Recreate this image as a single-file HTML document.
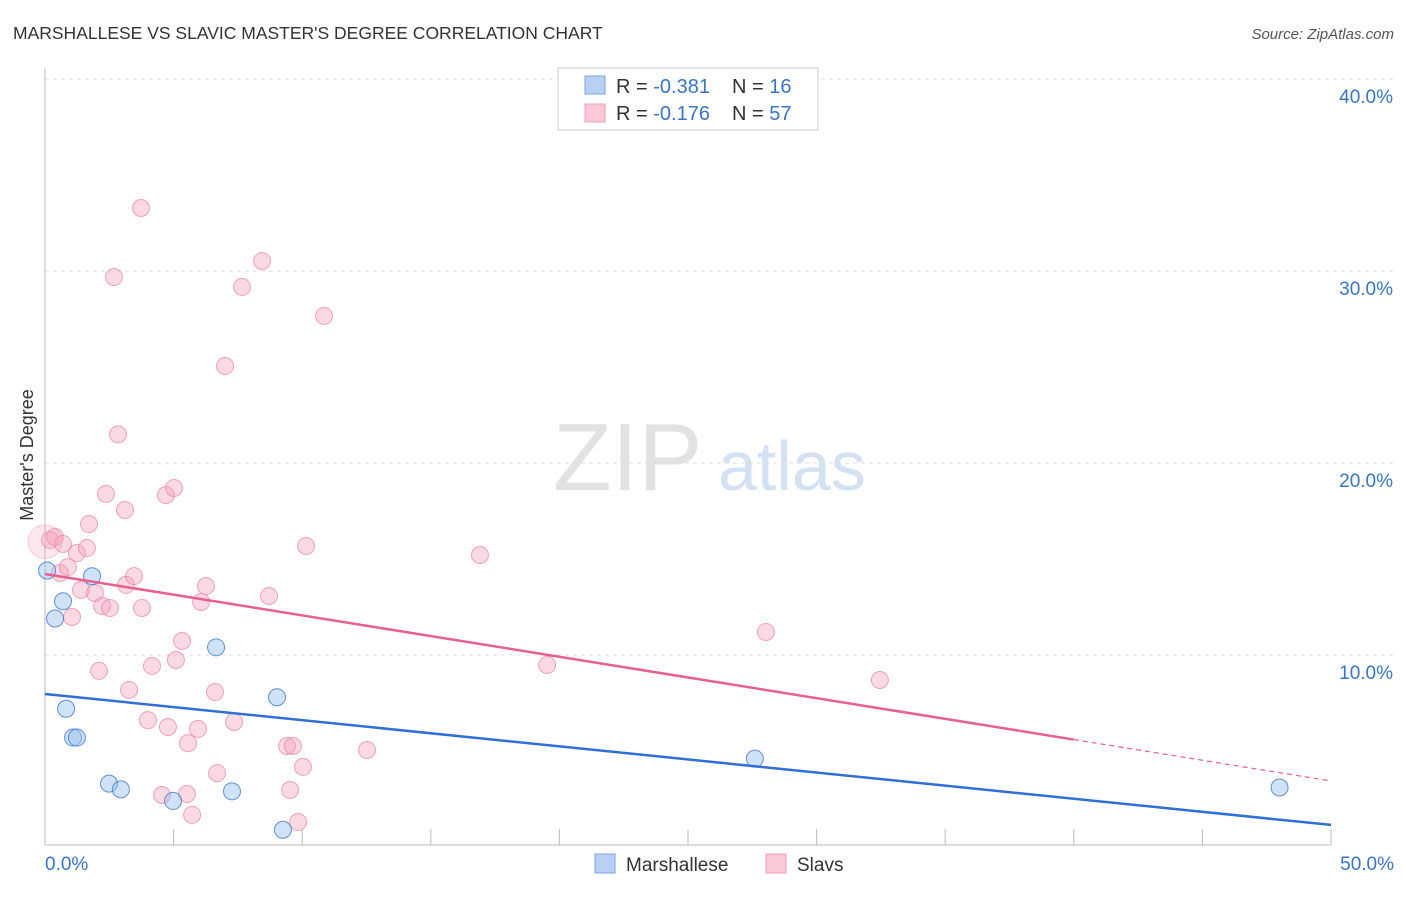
<!DOCTYPE html>
<html><head><meta charset="utf-8"><style>
body{margin:0;background:#fff;font-family:"Liberation Sans",sans-serif}
svg text{font-family:"Liberation Sans",sans-serif}
</style></head><body>
<svg id="chart" width="1406" height="892">
<text x="13" y="39" font-size="17.5" fill="#333">MARSHALLESE VS SLAVIC MASTER'S DEGREE CORRELATION CHART</text>
<text x="1394" y="39" font-size="15" fill="#555" font-style="italic" text-anchor="end">Source: ZipAtlas.com</text>
<g>
<text x="553" y="490" font-size="96" fill="#e2e2e2" font-family="Liberation Serif,serif">ZIP</text>
<text x="718" y="490" font-size="70" fill="#d3e1f3">atlas</text>
</g>
<g id="grid"></g>
<line x1="45" y1="68" x2="45" y2="845" stroke="#bbb"/>
<line x1="45" y1="845" x2="1331" y2="845" stroke="#bbb"/>
<g id="ticks"></g>
<text x="33" y="455" font-size="18" fill="#333" transform="rotate(-90 33 455)" text-anchor="middle">Master's Degree</text>
<text x="45" y="870" font-size="19" fill="#3a75c4">0.0%</text>
<text x="1394" y="870" font-size="19" fill="#3a75c4" text-anchor="end">50.0%</text>
<g id="marks"></g>
<g>
<rect x="558" y="68" width="260" height="62" fill="#fff" stroke="#ccc"/>
<rect x="585" y="76" width="20" height="18" fill="#b8d0f4" stroke="#7aa3dd"/>
<rect x="585" y="104" width="20" height="18" fill="#fbc8d6" stroke="#eea0b6"/>
<text x="616" y="93" font-size="20" fill="#333">R = <tspan fill="#3a75c4">-0.381</tspan><tspan x="732">N = </tspan><tspan fill="#3a75c4">16</tspan></text>
<text x="616" y="120" font-size="20" fill="#333">R = <tspan fill="#3a75c4">-0.176</tspan><tspan x="732">N = </tspan><tspan fill="#3a75c4">57</tspan></text>
</g>
<g>
<rect x="595" y="854" width="20" height="19" fill="#b8d0f4" stroke="#7aa3dd"/>
<text x="626" y="871" font-size="19" fill="#333">Marshallese</text>
<rect x="766" y="854" width="20" height="19" fill="#fbc8d6" stroke="#eea0b6"/>
<text x="797" y="871" font-size="19" fill="#333">Slavs</text>
</g>
</svg>
<script>
const yTicks=[10,20,30,40];
const yTickLabels=["10.0%","20.0%","30.0%","40.0%"];
const xTicks=[0,5,10,15,20,25,30,35,40,45,50];
const blueX=[0.08,0.39,0.70,0.82,1.09,1.24,1.83,2.49,2.95,4.98,6.65,7.27,9.02,9.25,27.6,48.0];
const blueY=[14.4,11.9,12.8,7.2,5.7,5.7,14.1,3.3,3.0,2.4,10.4,2.9,7.8,0.9,4.6,3.1];
const pinkX=[3.73,2.68,7.66,8.44,10.85,7.00,2.84,2.37,4.70,5.02,3.11,1.71,0.19,0.39,0.70,1.24,1.63,10.15,16.91,0.58,0.89,1.40,1.94,2.22,2.53,3.15,3.46,3.77,6.26,6.07,8.71,1.05,5.33,2.10,4.16,5.09,3.27,6.61,28.03,19.52,32.46,4.00,4.78,5.95,7.35,5.56,9.41,9.64,12.52,10.03,6.69,4.55,5.52,9.53,5.72,9.84,0.0];
const pinkY=[33.28,29.69,29.17,30.52,27.66,25.05,21.49,18.39,18.33,18.70,17.55,16.82,15.99,16.15,15.78,15.31,15.57,15.68,15.21,14.27,14.58,13.39,13.23,12.55,12.45,13.65,14.11,12.45,13.59,12.76,13.07,11.98,10.73,9.17,9.43,9.74,8.18,8.07,11.20,9.48,8.70,6.61,6.25,6.15,6.51,5.41,5.26,5.26,5.05,4.17,3.85,2.71,2.76,2.97,1.67,1.30,15.9];
const pinkR=[8.5,8.5,8.5,8.5,8.5,8.5,8.5,8.5,8.5,8.5,8.5,8.5,8.5,8.5,8.5,8.5,8.5,8.5,8.5,8.5,8.5,8.5,8.5,8.5,8.5,8.5,8.5,8.5,8.5,8.5,8.5,8.5,8.5,8.5,8.5,8.5,8.5,8.5,8.5,8.5,8.5,8.5,8.5,8.5,8.5,8.5,8.5,8.5,8.5,8.5,8.5,8.5,8.5,8.5,8.5,8.5,17];
const blueTrend=[7.97,1.15];
const pinkTrend=[14.22,3.44];
const pinkSolidEnd=40;
const NS="http://www.w3.org/2000/svg";
const X=v=>45+v/50*1286, Y=v=>847-v*19.2;
const grid=document.getElementById('grid'),ticks=document.getElementById('ticks'),marks=document.getElementById('marks');
function mk(t,a,p){const e=document.createElementNS(NS,t);for(const k in a)e.setAttribute(k,a[k]);p.appendChild(e);return e;}
yTicks.forEach((v,i)=>{
 const l=mk('line',{x1:45,x2:1394,y1:Y(v),y2:Y(v),stroke:'#ddd','stroke-dasharray':'4,4'},grid);
 
 
 const t=mk('text',{x:1393,y:Y(v)+24,'font-size':19,fill:'#3a75c4','text-anchor':'end'},grid);
 t.textContent=yTickLabels[i];
 
 
});
xTicks.forEach(v=>{
 const l=mk('line',{x1:X(v),x2:X(v),y1:829,y2:845,stroke:'#bbb'},ticks);
 
 
});
pinkX.forEach((x,i)=>{
 const big=pinkR[i]>10;
 const c=mk('circle',{cx:X(x),cy:Y(pinkY[i]),r:pinkR[i],fill:big?'rgba(246,160,185,0.25)':'rgba(246,160,185,0.4)',stroke:big?'rgba(232,130,160,0.35)':'rgba(232,130,160,0.7)','stroke-width':1},marks);
 
 
});
blueX.forEach((x,i)=>{
 const c=mk('circle',{cx:X(x),cy:Y(blueY[i]),r:8.5,fill:'rgba(150,190,240,0.45)',stroke:'rgba(60,120,210,0.8)','stroke-width':1},marks);
 
 
});
const pAt=x=>pinkTrend[0]+(pinkTrend[1]-pinkTrend[0])*x/50;
let l1=mk('line',{x1:X(0),y1:Y(pinkTrend[0]),x2:X(pinkSolidEnd),y2:Y(pAt(pinkSolidEnd)),stroke:'#e8608e','stroke-width':2.5},marks);


let l2=mk('line',{x1:X(pinkSolidEnd),y1:Y(pAt(pinkSolidEnd)),x2:X(50),y2:Y(pinkTrend[1]),stroke:'#e8608e','stroke-width':1.2,'stroke-dasharray':'5,4'},marks);


let l3=mk('line',{x1:X(0),y1:Y(blueTrend[0]),x2:X(50),y2:Y(blueTrend[1]),stroke:'#2f6fd6','stroke-width':2.5},marks);


</script>
</body></html>
